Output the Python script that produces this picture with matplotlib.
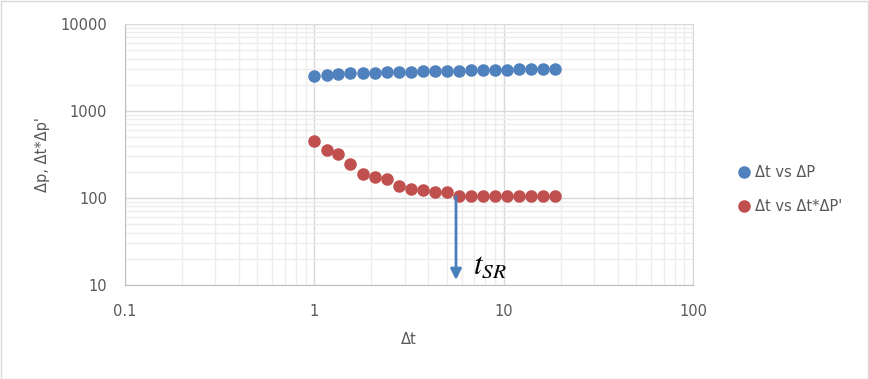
import matplotlib
matplotlib.use("Agg")
import matplotlib.pyplot as plt
from matplotlib.ticker import LogLocator, FixedLocator, NullFormatter, FixedFormatter
from matplotlib.patches import Rectangle

# ---- data ----
dt = [1.0, 1.16, 1.34, 1.55, 1.80, 2.08, 2.41, 2.79, 3.23, 3.74, 4.33,
      5.01, 5.80, 6.72, 7.78, 9.00, 10.4, 12.1, 14.0, 16.2, 18.7]
dp = [2520, 2600, 2660, 2700, 2740, 2770, 2800, 2820, 2840, 2860, 2880,
      2900, 2910, 2930, 2940, 2960, 2980, 3000, 3010, 3030, 3060]
dtdp = [456, 356, 323, 248, 190, 174, 165, 137, 127, 124, 118,
        118, 106, 105, 105, 105, 105, 105, 105, 105, 105]
x_ticks = [0.1, 1, 10, 100]
x_tick_labels = ["0.1", "1", "10", "100"]
y_ticks = [10, 100, 1000, 10000]
y_tick_labels = ["10", "100", "1000", "10000"]
t_sr = 5.6
series_names = ["Δt vs ΔP", "Δt vs Δt*ΔP'"]

BLUE = "#4F81BD"
RED = "#C0504D"
TXT = "#595959"

W, H = 869, 379
fig = plt.figure(figsize=(W / 100, H / 100), dpi=100)
fig.patches.append(Rectangle((0.5 / W, 0.5 / H), 1 - 1.5 / W, 1 - 1.5 / H,
                             transform=fig.transFigure, fill=False,
                             edgecolor="#D9D9D9", lw=1.0))

L, R, T, B = 125, 693, 24, 285
ax = fig.add_axes([L / W, 1 - B / H, (R - L) / W, (B - T) / H])
ax.set_xscale("log")
ax.set_yscale("log")
ax.set_xlim(0.1, 100)
ax.set_ylim(10, 10000)

ax.xaxis.set_major_locator(FixedLocator(x_ticks))
ax.xaxis.set_major_formatter(FixedFormatter(x_tick_labels))
ax.yaxis.set_major_locator(FixedLocator(y_ticks))
ax.yaxis.set_major_formatter(FixedFormatter(y_tick_labels))
ax.xaxis.set_minor_locator(LogLocator(base=10, subs=range(2, 10)))
ax.yaxis.set_minor_locator(LogLocator(base=10, subs=range(2, 10)))
ax.xaxis.set_minor_formatter(NullFormatter())
ax.yaxis.set_minor_formatter(NullFormatter())

ax.grid(which="minor", color="#EDEDED", lw=1.0)
ax.grid(which="major", color="#D9D9D9", lw=1.0)
ax.set_axisbelow(True)
ax.tick_params(which="both", length=0)
ax.tick_params(axis="x", pad=14, labelsize=10.5, labelcolor=TXT)
ax.tick_params(axis="y", pad=13, labelsize=10.5, labelcolor=TXT)
for s in ["top", "right"]:
    ax.spines[s].set_color("#D9D9D9")
for s in ["left", "bottom"]:
    ax.spines[s].set_color("#BFBFBF")

ax.plot(dt, dp, "o", color=BLUE, ms=8, mec=BLUE, label=series_names[0], clip_on=False)
ax.plot(dt, dtdp, "o", color=RED, ms=8, mec=RED, label=series_names[1], clip_on=False)

ax.annotate("", xy=(t_sr, 11.4), xytext=(t_sr, 105),
            arrowprops=dict(arrowstyle="-|>", color="#4A7EBB", lw=2,
                            mutation_scale=16, shrinkA=0, shrinkB=0))
plt.rcParams["mathtext.fontset"] = "stix"
ax.text(6.9, 13.4, r"$t_{SR}$", fontsize=22, color="black", va="baseline", ha="left")

leg = fig.legend(loc="upper left", bbox_to_anchor=(727 / W, 1 - 159 / H),
                 frameon=False, fontsize=10.5, labelcolor=TXT,
                 handletextpad=0.0, labelspacing=1.3, handlelength=1.5,
                 borderaxespad=0)

fig.text(43 / W, 1 - 155 / H, "Δp, Δt*Δp'", rotation=90, ha="center",
         va="center", fontsize=10.5, color=TXT)
fig.text(409 / W, 1 - 340 / H, "Δt", ha="center", va="center",
         fontsize=10.5, color=TXT)

fig.savefig("out.png", dpi=100)
